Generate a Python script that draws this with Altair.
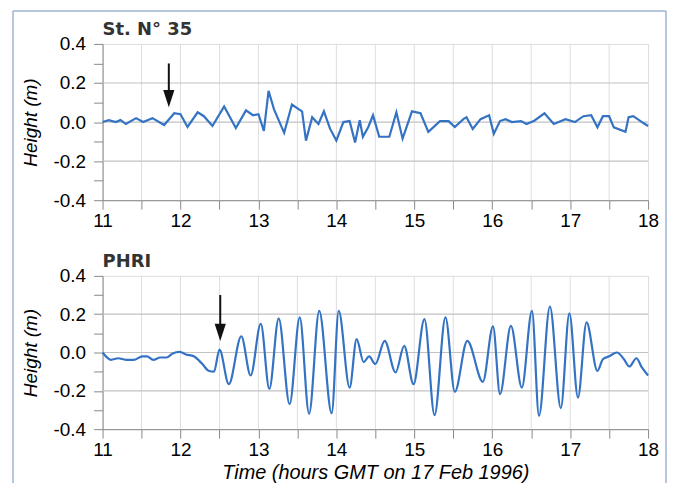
import altair as alt
import pandas as pd

# ---------------- data ----------------
top_t = [11.00, 11.08, 11.17, 11.23, 11.30, 11.43, 11.52, 11.64, 11.79, 11.92,
         12.00, 12.09, 12.22, 12.30, 12.41, 12.56, 12.71, 12.84, 12.93, 13.00,
         13.07, 13.13, 13.20, 13.33, 13.43, 13.52, 13.56, 13.61, 13.69, 13.77,
         13.84, 13.92, 14.00, 14.09, 14.17, 14.24, 14.30, 14.34, 14.41, 14.47,
         14.55, 14.68, 14.77, 14.85, 14.97, 15.08, 15.18, 15.33, 15.44, 15.52,
         15.63, 15.67, 15.75, 15.85, 15.96, 16.02, 16.10, 16.17, 16.25, 16.37,
         16.44, 16.54, 16.67, 16.79, 16.94, 17.06, 17.17, 17.27, 17.35, 17.42,
         17.50, 17.56, 17.71, 17.75, 17.81, 17.94, 18.00]
top_h = [0.00, 0.01, 0.00, 0.01, -0.01, 0.02, 0.00, 0.02, -0.015, 0.045,
         0.04, -0.025, 0.05, 0.03, -0.02, 0.08, -0.03, 0.06, 0.035, 0.04,
         -0.045, 0.16, 0.065, -0.055, 0.09, 0.065, 0.055, -0.095, 0.025, -0.01,
         0.055, -0.035, -0.095, 0.0, 0.005, -0.105, 0.01, -0.075, -0.025, 0.035,
         -0.075, -0.075, 0.05, -0.085, 0.055, 0.045, -0.05, 0.005, 0.005, -0.025,
         0.015, 0.025, -0.035, 0.015, 0.035, -0.06, 0.005, 0.015, 0.0, 0.005,
         -0.01, 0.007, 0.045, -0.01, 0.015, 0.0, 0.03, 0.035, -0.027, 0.03,
         0.03, -0.027, -0.05, 0.025, 0.03, -0.005, -0.02]

bot_t = [11.00, 11.11, 11.20, 11.30, 11.40, 11.51, 11.57, 11.65, 11.74, 11.82,
         11.90, 11.99, 12.07, 12.17, 12.28, 12.36, 12.43, 12.50, 12.62, 12.78,
         12.90, 13.03, 13.14, 13.26, 13.40, 13.53, 13.65, 13.78, 13.94, 14.03,
         14.17, 14.26, 14.35, 14.42, 14.50, 14.62, 14.76, 14.87, 14.99, 15.13,
         15.26, 15.40, 15.52, 15.68, 15.88, 16.01, 16.10, 16.24, 16.38, 16.51,
         16.60, 16.74, 16.88, 16.99, 17.10, 17.21, 17.35, 17.42, 17.50, 17.60,
         17.69, 17.76, 17.85, 17.92, 18.00]
bot_h = [0.0, -0.038, -0.03, -0.038, -0.038, -0.02, -0.02, -0.038, -0.026, -0.026,
         -0.005, 0.003, -0.01, -0.02, -0.06, -0.095, -0.10, 0.015, -0.165, 0.085,
         -0.12, 0.15, -0.19, 0.178, -0.27, 0.183, -0.32, 0.217, -0.317, 0.217,
         -0.183, 0.07, -0.05, -0.02, -0.06, 0.061, -0.104, 0.035, -0.165, 0.174,
         -0.327, 0.183, -0.205, 0.061, -0.153, 0.136, -0.217, 0.139, -0.183, 0.217,
         -0.33, 0.24, -0.29, 0.205, -0.235, 0.157, -0.096, -0.035, -0.02, 0.0,
         -0.035, -0.073, -0.03, -0.078, -0.12]

arrow_t = [11.85, 12.51]
arrow_top = [0.30, 0.30]
arrow_shaft_end = [0.15, 0.13]
arrow_head_mid = [0.12, 0.105]

x_ticks = [11, 11.5, 12, 12.5, 13, 13.5, 14, 14.5, 15, 15.5, 16, 16.5, 17, 17.5, 18]
y_ticks = [-0.4, -0.3, -0.2, -0.1, 0.0, 0.1, 0.2, 0.3, 0.4]
x_grid = [11.5, 12, 12.5, 13, 13.5, 14, 14.5, 15, 15.5, 16, 16.5, 17, 17.5]
y_grid = [-0.2, 0.0, 0.2]
panel_titles = ["St. N\u00b0 35", "PHRI"]
x_title = "Time (hours GMT on 17 Feb 1996)"
y_title = "Height (m)"

FONT = "DejaVu Sans"
TXT = "#333333"
AXC = "#555555"
LINE = "#3473c4"
FRAME = "#9db3d3"


def panel(t, h, title, idx, height, show_xtitle, interp, frame):
    df = pd.DataFrame({"t": t, "h": h})
    xaxis = dict(values=x_ticks,
                 labelExpr="datum.value % 1 == 0 ? format(datum.value, 'd') : ''",
                 labelFlush=False, labelOverlap=False, grid=False,
                 tickSize=9, labelPadding=2, labelFontSize=19)
    if show_xtitle:
        xaxis.update(title=x_title, titleFontStyle="italic", titleFontWeight="normal",
                     titleFontSize=20, titlePadding=4)
    else:
        xaxis.update(title="")
    yaxis = dict(values=y_ticks,
                 labelExpr="abs(round(datum.value*10)) % 2 == 0 ? replace(format(datum.value, '.1f'), '\u2212', '-') : ''",
                 labelOverlap=False, grid=False,
                 tickSize=9, labelPadding=8, labelFontSize=19,
                 title=y_title, titleFontStyle="italic", titleFontWeight="normal",
                 titleFontSize=19, titlePadding=13)
    x = alt.X("t:Q", scale=alt.Scale(domain=[11, 18], nice=False, zero=False), axis=alt.Axis(**xaxis))
    y = alt.Y("h:Q", scale=alt.Scale(domain=[-0.4, 0.4], nice=False, zero=False), axis=alt.Axis(**yaxis))

    vg = alt.Chart(pd.DataFrame({"t": x_grid})).mark_rule(color="#dedede", strokeWidth=1).encode(x=x)
    hg = alt.Chart(pd.DataFrame({"h": y_grid})).mark_rule(color="#c2c2c2", strokeWidth=1.2).encode(y=y)

    line = alt.Chart(df).mark_line(color=LINE, strokeWidth=2.2, interpolate=interp).encode(x=x, y=y)

    adf = pd.DataFrame({"t": [arrow_t[idx]], "h": [arrow_top[idx]], "h2": [arrow_shaft_end[idx]],
                        "hh": [arrow_head_mid[idx]]})
    shaft = alt.Chart(adf).mark_rule(color="#111111", strokeWidth=2).encode(
        x=x, y=y, y2="h2:Q")
    head = alt.Chart(adf).transform_calculate(h="datum.hh").mark_point(
        shape="M -0.65 -1 L 0.65 -1 L 0 1 Z", filled=True, color="#111111",
        opacity=1, size=300).encode(x=x, y=y)

    tdf = pd.DataFrame({"title": [title]})
    ttl = alt.Chart(tdf).mark_text(
        font=FONT, fontSize=18, fontWeight="bold", color=TXT, align="left", baseline="alphabetic"
    ).encode(x=alt.value(0), y=alt.value(-9), text="title:N")

    layers = [vg, hg, line, shaft, head, ttl]
    if frame:
        fdf = pd.DataFrame({"k": [0]})
        left = alt.Chart(fdf).mark_rule(color=FRAME, strokeWidth=1.5).encode(
            x=alt.value(-90), y=alt.value(-33), y2=alt.value(441))
        right = alt.Chart(fdf).mark_rule(color=FRAME, strokeWidth=1.5).encode(
            x=alt.value(566), y=alt.value(-33), y2=alt.value(441))
        topr = alt.Chart(fdf).mark_rule(color=FRAME, strokeWidth=1.5).encode(
            x=alt.value(-90), x2=alt.value(566), y=alt.value(-33))
        layers += [left, right, topr]

    return alt.layer(*layers).properties(width=548, height=height)


top = panel(top_t, top_h, panel_titles[0], 0, 157, False, "linear", True)
bot = panel(bot_t, bot_h, panel_titles[1], 1, 154, True, "monotone", False)

chart = alt.vconcat(top, bot, spacing=76, bounds="flush").properties(
    padding={"left": 3, "top": 0, "right": 0, "bottom": 0}
).configure_view(
    stroke=AXC, strokeWidth=1.5
).configure_axis(
    domainColor=AXC, domainWidth=1.5, tickColor=AXC, tickWidth=1.5,
    labelFont=FONT, titleFont=FONT, labelColor=TXT, titleColor=TXT
).configure(background="white")

chart.save("out.html", embed_options={"renderer": "svg", "actions": False})
